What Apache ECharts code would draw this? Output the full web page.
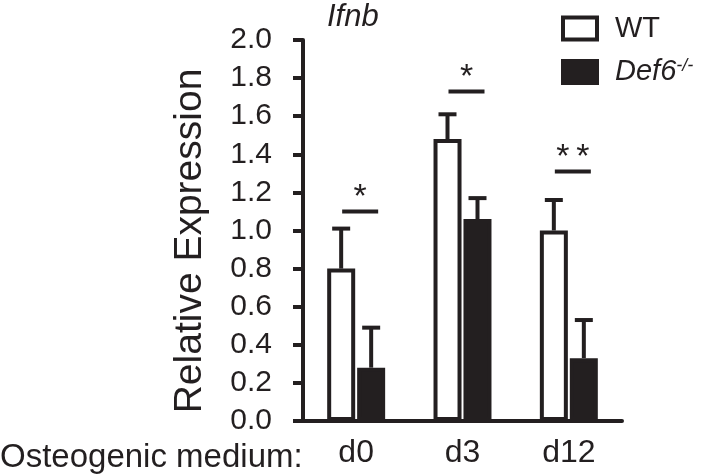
<!DOCTYPE html>
<html>
<head>
<meta charset="utf-8">
<script src="https://cdn.jsdelivr.net/npm/echarts@6/dist/echarts.min.js"></script>
<style>
html,body{margin:0;padding:0;background:#fff}
#chart{width:702px;height:476px}
</style>
</head>
<body>
<div id="chart"></div>
<script>
// data
var days = ['d0', 'd3', 'd12'];
var wtVal = [0.80, 1.48, 1.00];
var wtErr = [0.21, 0.13, 0.16];
var koVal = [0.28, 1.06, 0.33];
var koErr = [0.21, 0.11, 0.20];
var sigY = [1.10, 1.73, 1.31];
var sigMark = ['*', '*', '*\u2009*'];

var INK = '#231f20';
var FONT = '"Liberation Sans", Arial, sans-serif';

var chart = echarts.init(document.getElementById('chart'));

// error bar: only the upper whisker
function errSeries(off, vals, errs) {
	var d = [];
	for (var i = 0; i < vals.length; i++) {
		d.push([i, vals[i], vals[i] + errs[i]]);
	}
	return {
		type: 'custom',
		z: 3,
		encode: {x: 0, y: [1, 2]},
		data: d,
		renderItem: function (params, api) {
			var p0 = api.coord([api.value(0), api.value(1)]);
			var p1 = api.coord([api.value(0), api.value(2)]);
			var x = p0[0] + off;
			return {
				type: 'group',
				children: [
					{type: 'line', shape: {x1: x, y1: p0[1], x2: x, y2: p1[1]}, style: {stroke: INK, lineWidth: 4}},
					{type: 'line', shape: {x1: x - 9, y1: p1[1], x2: x + 9, y2: p1[1]}, style: {stroke: INK, lineWidth: 4}}
				]
			};
		}
	};
}

var sigData = [];
for (var i = 0; i < days.length; i++) sigData.push([i, sigY[i]]);

var option = {
	animation: false,
	textStyle: {fontFamily: FONT},
	title: {
		text: 'Ifnb',
		left: 327, top: 2, padding: 0,
		textStyle: {fontStyle: 'italic', fontWeight: 'normal', fontSize: 31, color: INK, fontFamily: FONT}
	},
	legend: {
		data: ['WT', 'Def6-/-'],
		orient: 'vertical',
		left: 561, top: 14, padding: 0,
		itemWidth: 34, itemHeight: 22, itemGap: 14,
		icon: 'rect',
		itemStyle: {borderWidth: 4},
		formatter: function (name) {
			return name == 'WT' ? '{n|WT}' : '{i|Def6}{s|-/-}';
		},
		textStyle: {
			color: INK, fontFamily: FONT,
			rich: {
				n: {fontSize: 29, color: INK, padding: [0, 0, 0, 13], lineHeight: 30},
				i: {fontSize: 29, color: INK, fontStyle: 'italic', padding: [0, 0, 0, 13], lineHeight: 30},
				s: {fontSize: 18, color: INK, fontStyle: 'italic', padding: [0, 0, 12, 0]}
			}
		}
	},
	grid: {left: 303, right: 80, top: 40, bottom: 55},
	xAxis: {
		type: 'category',
		data: days,
		axisLine: {lineStyle: {color: INK, width: 4}},
		axisTick: {length: 9, lineStyle: {color: INK, width: 4}},
		axisLabel: {fontSize: 32, color: INK, margin: 16, fontFamily: FONT}
	},
	yAxis: {
		type: 'value',
		min: 0, max: 2, interval: 0.2,
		splitLine: {show: false},
		axisLine: {show: true, lineStyle: {color: INK, width: 4}},
		axisTick: {show: true, length: 10, lineStyle: {color: INK, width: 4}},
		axisLabel: {
			fontSize: 30, color: INK, margin: 31, fontFamily: FONT,
			formatter: function (v) { return v.toFixed(1); }
		}
	},
	graphic: [
		{
			type: 'text', x: 210, y: 241, rotation: Math.PI / 2,
			style: {text: 'Relative Expression', fontSize: 39, fontFamily: FONT, fill: INK, align: 'center', verticalAlign: 'bottom'}
		},
		{
			type: 'text', x: 0, y: 458,
			style: {text: 'Osteogenic medium:', fontSize: 33, fontFamily: FONT, fill: INK, align: 'left', verticalAlign: 'middle'}
		}
	],
	series: [
		{
			name: 'WT', type: 'bar', data: wtVal,
			barWidth: 28, barGap: '7%',
			itemStyle: {color: '#fff', borderColor: INK, borderWidth: 4}
		},
		{
			name: 'Def6-/-', type: 'bar', data: koVal,
			barWidth: 28,
			itemStyle: {color: INK, borderColor: INK, borderWidth: 4}
		},
		errSeries(-15, wtVal, wtErr),
		errSeries(15, koVal, koErr),
		{
			type: 'custom',
			z: 3,
			encode: {x: 0, y: 1},
			data: sigData,
			renderItem: function (params, api) {
				var p = api.coord([api.value(0), api.value(1)]);
				var x = p[0] + 4;
				return {
					type: 'group',
					children: [
						{type: 'line', shape: {x1: x - 18, y1: p[1], x2: x + 18, y2: p[1]}, style: {stroke: INK, lineWidth: 4}},
						{type: 'text', style: {text: sigMark[params.dataIndex], x: x, y: p[1] - 14, fontSize: 34, fontFamily: FONT, fill: INK, align: 'center', verticalAlign: 'middle'}}
					]
				};
			}
		}
	]
};

chart.setOption(option);
</script>
</body>
</html>
